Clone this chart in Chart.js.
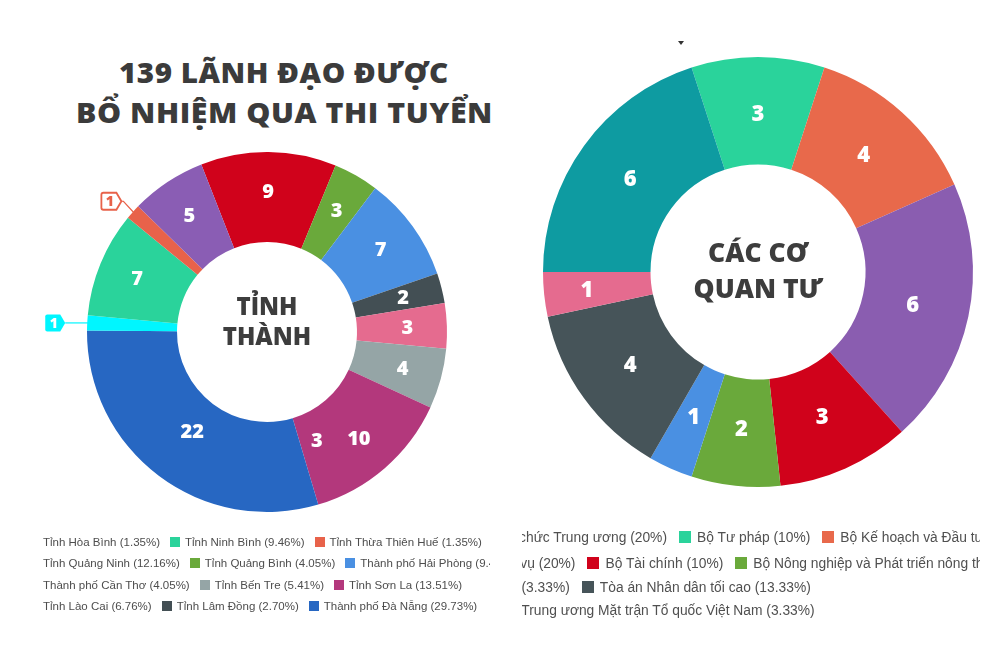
<!DOCTYPE html>
<html>
<head>
<meta charset="utf-8">
<script src="https://cdn.jsdelivr.net/npm/chart.js@4.4.1/dist/chart.umd.min.js"></script>
<style>
html, body { margin: 0; padding: 0; background: #fff; }
body { width: 1000px; height: 667px; position: relative; overflow: hidden; font-family: "Liberation Sans", Arial, sans-serif; }
#title { position: absolute; left: 0; width: 568px; top: 52px; text-align: center; font-family: "Open Sans", sans-serif; font-weight: 800; font-size: 28px; line-height: 40px; letter-spacing: 0.5px; color: #3b3b3b; }
#title span { display: inline-block; white-space: nowrap; transform-origin: center; }
canvas { position: absolute; }
#leftChart { left: 37px; top: 132px; }
#rightChart { left: 523px; top: 37px; }
.center { position: absolute; text-align: center; font-family: "Open Sans", sans-serif; font-weight: 800; color: #3d3d3d; white-space: nowrap; }
#leftCenter { left: 167px; width: 200px; top: 291px; font-size: 24px; line-height: 30px; }
#rightCenter { left: 658px; width: 200px; top: 234px; font-size: 26.5px; line-height: 36px; }
.legend { position: absolute; overflow: hidden; }
#leftLegend { left: 40px; top: 530px; width: 450px; height: 90px; font-size: 11.5px; color: #4d4d4d; }
#rightLegend { left: 522px; top: 524px; width: 458px; height: 100px; font-size: 13.8px; color: #505050; }
.row { position: absolute; display: flex; align-items: center; white-space: nowrap; }
.item { display: flex; align-items: center; }
.mark { display: inline-block; flex: none; }
#tick { position: absolute; left: 678px; top: 41px; width: 0; height: 0; border-left: 3px solid transparent; border-right: 3px solid transparent; border-top: 4px solid #333; }
</style>
</head>
<body>
<div id="title"><span>139 LÃNH ĐẠO ĐƯỢC</span><br><span>BỔ NHIỆM QUA THI TUYỂN</span></div>
<canvas id="leftChart" width="460" height="400"></canvas>
<canvas id="rightChart" width="470" height="470"></canvas>
<div id="leftCenter" class="center">TỈNH<br>THÀNH</div>
<div id="rightCenter" class="center">CÁC CƠ<br>QUAN TƯ</div>
<div id="tick"></div>
<div id="leftLegend" class="legend"></div>
<div id="rightLegend" class="legend"></div>
<script>
// Tỉnh thành (left doughnut), in drawing order clockwise
const provinceLabels = ['Tỉnh Quảng Ninh', 'Tỉnh Quảng Bình', 'Thành phố Hải Phòng', 'Tỉnh Lâm Đồng', 'Thành phố Cần Thơ', 'Tỉnh Bến Tre', 'Tỉnh Sơn La', 'Thành phố Đà Nẵng', 'Tỉnh Hòa Bình', 'Tỉnh Ninh Bình', 'Tỉnh Thừa Thiên Huế', 'Tỉnh Lào Cai'];
const provinceValues = [9, 3, 7, 2, 3, 4, 10, 22, 1, 7, 1, 5];
const provinceColors = ['#d0021b', '#6aa93b', '#4a90e2', '#434f54', '#e56b8f', '#95a5a6', '#b3387c', '#2767c2', '#00f6ff', '#2ad39b', '#e8624a', '#8a5db4'];
// legend rows (indexes into the arrays above)
const provinceLegendRows = [[8, 9, 10], [0, 1, 2], [4, 5, 6], [11, 3, 7]];

// Các cơ quan TƯ (right doughnut)
const agencyLabels = ['Bộ Tư pháp', 'Bộ Kế hoạch và Đầu tư', 'Bộ Nội vụ', 'Bộ Tài chính', 'Bộ Nông nghiệp và Phát triển nông thôn', 'Bộ Ngoại giao', 'Tòa án Nhân dân tối cao', 'Ủy ban Trung ương Mặt trận Tổ quốc Việt Nam', 'Ban Tổ chức Trung ương'];
const agencyValues = [3, 4, 6, 3, 2, 1, 4, 1, 6];
const agencyColors = ['#2ad39b', '#e8694b', '#8a5db0', '#d0021b', '#6aa93b', '#4a90e2', '#465459', '#e56b8f', '#0e9ba1'];
const agencyLegendRows = [[8, 0, 1], [2, 3, 4], [5, 6], [7]];

// fit title lines to the reference widths
const titleWidths = [330, 417];
document.querySelectorAll('#title span').forEach((s, i) => {
    const w = s.getBoundingClientRect().width;
    s.style.transform = 'scaleX(' + (titleWidths[i] / w) + ')';
});

// white numbers on the slices + callout tags for the thin ones
const sliceLabels = {
    id: 'sliceLabels',
    afterDatasetsDraw(chart, args, opts) {
        const ctx = chart.ctx;
        const meta = chart.getDatasetMeta(0);
        const values = chart.data.datasets[0].data;
        const colors = chart.data.datasets[0].backgroundColor;
        const skip = opts.skip || [];
        const over = opts.radiusOverride || {};
        ctx.save();
        ctx.font = opts.font;
        ctx.fillStyle = '#fff';
        ctx.textAlign = 'center';
        ctx.textBaseline = 'middle';
        meta.data.forEach((arc, i) => {
            if (skip.includes(i)) return;
            const p = arc.getProps(['x', 'y', 'startAngle', 'endAngle', 'outerRadius'], true);
            const a = (p.startAngle + p.endAngle) / 2;
            const r = p.outerRadius * (over[i] || opts.radius);
            ctx.fillText(String(values[i]), p.x + Math.cos(a) * r, p.y + Math.sin(a) * r + 1);
        });
        (opts.extras || []).forEach(e => {
            const p = meta.data[e.index].getProps(['x', 'y', 'startAngle', 'endAngle', 'outerRadius'], true);
            const a = p.startAngle + (p.endAngle - p.startAngle) * e.frac;
            const r = p.outerRadius * e.radius;
            ctx.fillText(e.text, p.x + Math.cos(a) * r, p.y + Math.sin(a) * r + 1);
        });
        (opts.callouts || []).forEach(c => {
            const p = meta.data[c.index].getProps(['x', 'y', 'startAngle', 'endAngle', 'outerRadius'], true);
            const a = (p.startAngle + p.endAngle) / 2;
            const ex = p.x + Math.cos(a) * (p.outerRadius - 2);
            const ey = p.y + Math.sin(a) * (p.outerRadius - 2);
            const tx = ex + c.dx, ty = ey + c.dy;
            const col = colors[c.index];
            ctx.strokeStyle = col;
            ctx.lineWidth = 1.2;
            ctx.beginPath();
            ctx.moveTo(tx, ty);
            if (c.elbow) ctx.lineTo(tx + c.elbow, ty);
            ctx.lineTo(ex, ey);
            ctx.stroke();
            // tag with a point on the right
            const w = 15, h = 17, pt = 5;
            ctx.beginPath();
            ctx.moveTo(tx, ty);
            ctx.lineTo(tx - pt, ty - h / 2);
            ctx.lineTo(tx - pt - w + 2, ty - h / 2);
            ctx.quadraticCurveTo(tx - pt - w, ty - h / 2, tx - pt - w, ty - h / 2 + 2);
            ctx.lineTo(tx - pt - w, ty + h / 2 - 2);
            ctx.quadraticCurveTo(tx - pt - w, ty + h / 2, tx - pt - w + 2, ty + h / 2);
            ctx.lineTo(tx - pt, ty + h / 2);
            ctx.closePath();
            if (c.filled) {
                ctx.fillStyle = col;
                ctx.fill();
                ctx.fillStyle = '#fff';
            } else {
                ctx.fillStyle = '#fff';
                ctx.fill();
                ctx.lineWidth = 1.8;
                ctx.stroke();
                ctx.fillStyle = col;
            }
            ctx.font = '800 14px "Open Sans"';
            ctx.fillText(String(values[c.index]), tx - pt - w / 2 + 1, ty + 1);
        });
        ctx.restore();
    }
};

function makeDoughnut(id, labels, values, colors, rotation, padding, labelOpts) {
    return new Chart(document.getElementById(id), {
        type: 'doughnut',
        data: {
            labels: labels,
            datasets: [{ data: values, backgroundColor: colors, borderWidth: 0, hoverOffset: 0 }]
        },
        options: {
            responsive: false,
            animation: false,
            rotation: rotation,
            cutout: '50%',
            layout: { padding: padding },
            events: [],
            plugins: {
                legend: { display: false },
                tooltip: { enabled: false },
                sliceLabels: labelOpts
            }
        },
        plugins: [sliceLabels]
    });
}

makeDoughnut('leftChart', provinceLabels, provinceValues, provinceColors, -21.4,
    { left: 50, right: 50, top: 20, bottom: 20 }, {
    font: '800 20px "Open Sans"',
    radius: 0.78,
    radiusOverride: { 7: 0.69 },
    skip: [8, 10],
    extras: [{ index: 6, text: '3', frac: 0.83, radius: 0.66 }],
    callouts: [
        { index: 8, dx: -24, dy: 0, filled: true },
        { index: 10, dx: -13, dy: -12, elbow: 2, filled: false }
    ]
});

makeDoughnut('rightChart', agencyLabels, agencyValues, agencyColors, -18, 20, {
    font: '800 22px "Open Sans"',
    radius: 0.735,
    radiusOverride: { 7: 0.8 }
});

// HTML legends (cropped like the reference)
function buildLegend(boxId, labels, values, colors, rows, opt) {
    const box = document.getElementById(boxId);
    const total = values.reduce((s, v) => s + v, 0);
    rows.forEach((row, r) => {
        const div = document.createElement('div');
        div.className = 'row';
        div.style.top = (opt.rowY[r] - opt.top - 9) + 'px';
        div.style.height = '18px';
        let firstText;
        row.forEach((i, k) => {
            const item = document.createElement('span');
            item.className = 'item';
            item.style.marginRight = opt.itemGap + 'px';
            const m = document.createElement('span');
            m.className = 'mark';
            m.style.width = opt.mark + 'px';
            m.style.height = opt.mark + 'px';
            m.style.background = colors[i];
            m.style.marginRight = opt.markGap + 'px';
            const t = document.createElement('span');
            t.textContent = labels[i] + ' (' + opt.fmt(values[i] / total * 100) + '%)';
            item.appendChild(m);
            item.appendChild(t);
            div.appendChild(item);
            if (k === 0) firstText = t;
        });
        box.appendChild(div);
        const endX = firstText.offsetLeft + firstText.offsetWidth;
        const startX = firstText.offsetLeft;
        if (opt.anchorEnd) div.style.left = (opt.anchorEnd[r] - opt.left - endX) + 'px';
        else div.style.left = (opt.textStart - opt.left - startX) + 'px';
    });
}

buildLegend('leftLegend', provinceLabels, provinceValues, provinceColors, provinceLegendRows, {
    left: 40, top: 530, rowY: [542, 563, 585, 606], textStart: 43,
    mark: 10, markGap: 5, itemGap: 10,
    fmt: v => v.toFixed(2)
});

buildLegend('rightLegend', agencyLabels, agencyValues, agencyColors, agencyLegendRows, {
    left: 522, top: 524, rowY: [537, 563, 587, 610], anchorEnd: [667, 575, 570, 815],
    mark: 12, markGap: 6, itemGap: 12,
    fmt: v => String(Number(v.toFixed(2)))
});
</script>
</body>
</html>
